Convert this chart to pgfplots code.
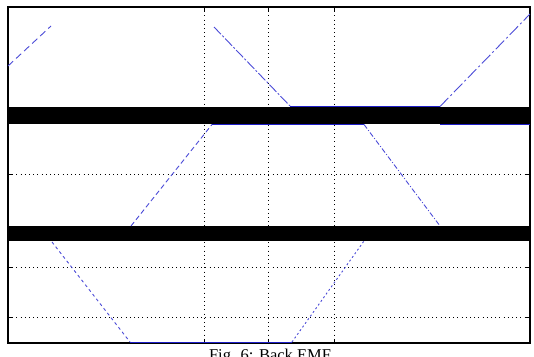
\documentclass[border=0pt]{standalone}
\usepackage{pgfplots}
\pgfplotsset{compat=1.18}
\usepackage{fontspec}
\setmainfont{Liberation Serif}
\definecolor{tr}{RGB}{75,75,215}
\definecolor{trd}{RGB}{30,30,200}
\begin{document}
\begin{tikzpicture}
\begin{axis}[
 scale only axis, width=522pt, height=336pt,
 xmin=8, xmax=530, ymin=7, ymax=343, y dir=reverse,
 xtick={204,268,334}, ytick={116,174,233,267,317},
 xticklabels={}, yticklabels={},
 tick align=inside, major tick length=4pt,
 xtick pos=both, ytick pos=both,
 grid=major, grid style={black, line width=0.8pt, dash pattern=on 1pt off 3.2pt},
 axis line style={line width=1.1pt},
 tick style={black, line width=0.9pt},
 clip=true,
]
% thick black bars
\addplot[black, line width=17pt] coordinates {(8,115.5) (530,115.5)};
\addplot[black, line width=15.5pt] coordinates {(8,233.3) (530,233.3)};
% top trace
\addplot[tr, line width=0.9pt, dash pattern=on 7pt off 4pt] coordinates {(8,66) (51,26)};
\addplot[tr, line width=0.9pt, dash pattern=on 10pt off 2pt on 2pt off 2pt] coordinates {(214,27) (290,106)};
\addplot[trd, line width=1pt] coordinates {(290,106.5) (440,106.5)};
\addplot[tr, line width=0.9pt, dash pattern=on 12pt off 3pt on 2pt off 3pt] coordinates {(440,106.5) (530,14)};
% middle trace
\addplot[tr, line width=0.9pt, dash pattern=on 5pt off 3pt] coordinates {(131,226) (212,124.5)};
\addplot[trd, line width=1pt] coordinates {(212,124.5) (364,124.5)};
\addplot[tr, line width=0.9pt, dash pattern=on 5pt off 2pt on 1pt off 2pt] coordinates {(364,124.5) (440,226)};
\addplot[trd, line width=1pt] coordinates {(440,124.5) (530,124.5)};
% bottom trace
\addplot[tr, line width=0.9pt, dash pattern=on 3pt off 3pt] coordinates {(52,242) (130,342)};
\addplot[trd, line width=1.6pt] coordinates {(130,342.5) (292,342.5)};
\addplot[tr, line width=0.9pt, dash pattern=on 2pt off 2.5pt] coordinates {(292,342) (364,241)};
\coordinate (bl) at (axis cs:0,356);
\coordinate (tr) at (axis cs:534,0);
\coordinate (cap) at (axis cs:270,360);
\end{axis}
\node[anchor=base, font=\fontsize{16.5}{18}\selectfont, inner sep=0pt] at (cap) {Fig. 6: Back EMF};
\pgfresetboundingbox
\path[use as bounding box] (bl) rectangle (tr);
\end{tikzpicture}
\end{document}
